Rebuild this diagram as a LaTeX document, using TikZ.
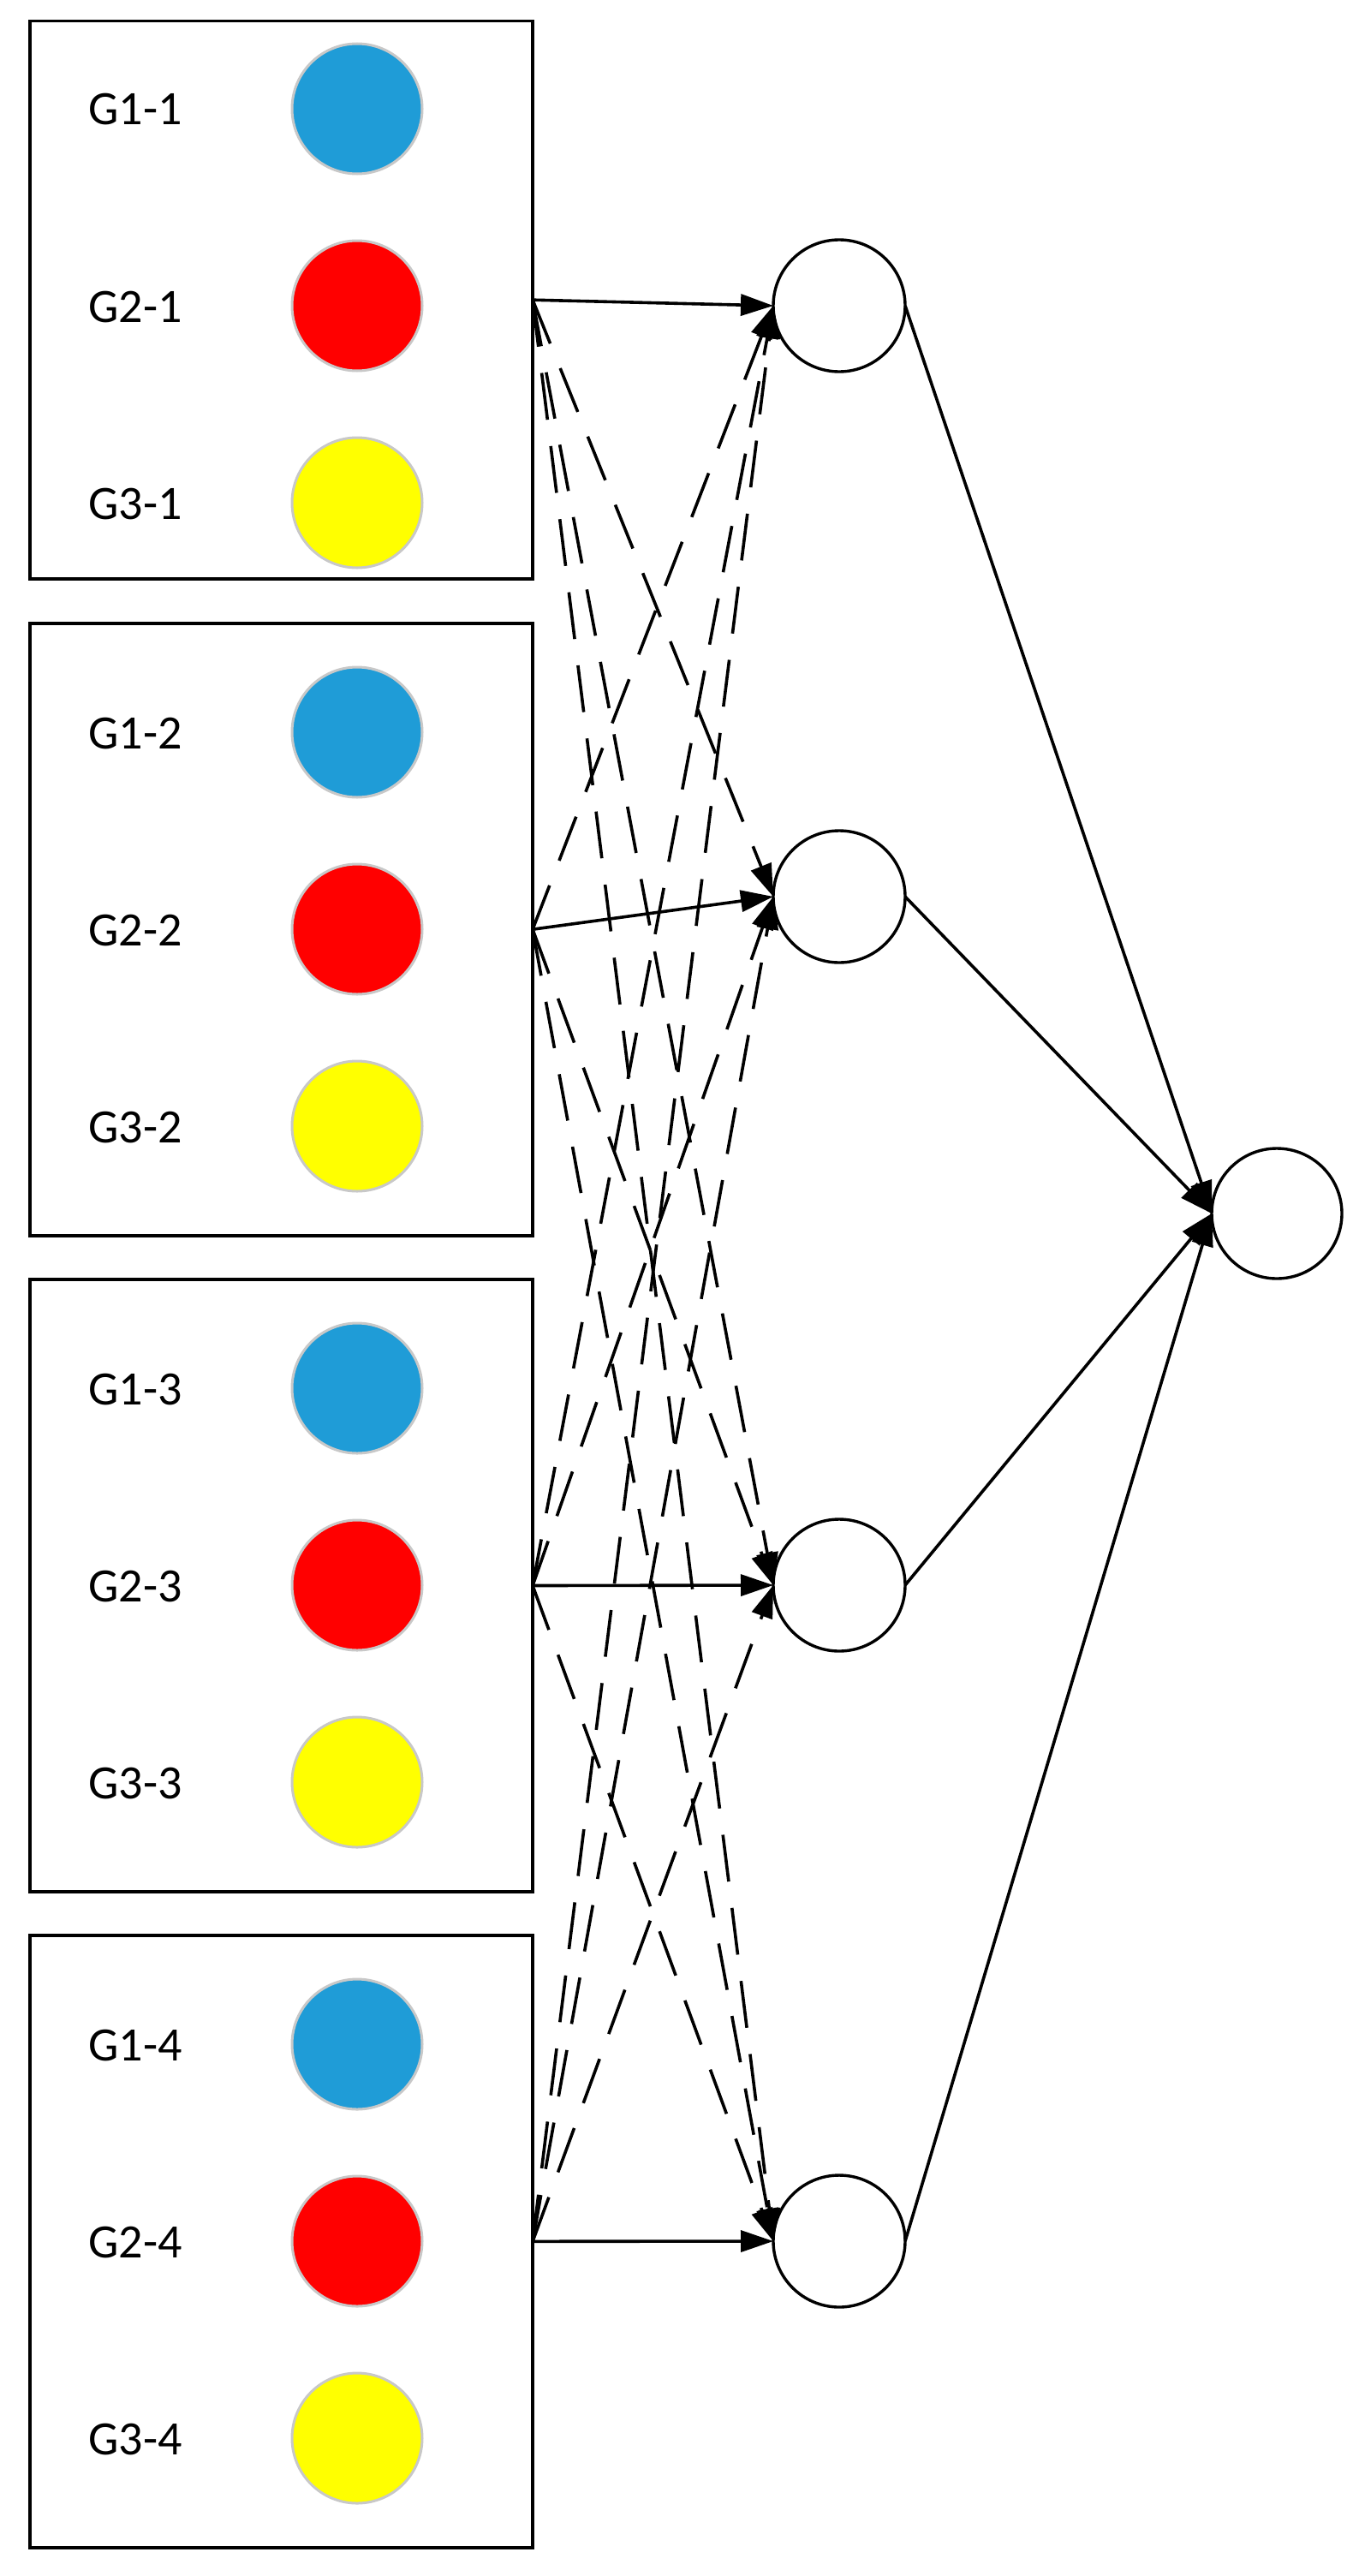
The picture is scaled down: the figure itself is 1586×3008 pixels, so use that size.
\documentclass[tikz,border=0pt]{standalone}
\usepackage{fontspec}
\setmainfont{Carlito}
\usetikzlibrary{arrows.meta}
\definecolor{gblue}{RGB}{31,156,215}
\definecolor{gred}{RGB}{255,0,0}
\definecolor{gyellow}{RGB}{255,255,0}
\definecolor{ggray}{RGB}{200,200,200}
\begin{document}
\begin{tikzpicture}[x=0.5pt,y=-0.5pt,
  grpbox/.style={draw=black,line width=1.8pt,minimum width=293.65pt,inner sep=0pt,outer sep=0pt},
  dot/.style={circle,draw=ggray,line width=1.5pt,minimum size=76pt,inner sep=0pt},
  lbl/.style={anchor=base west,font=\fontsize{28}{34}\selectfont,inner sep=0pt},
  hid/.style={circle,draw=black,line width=1.7pt,minimum size=77pt,inner sep=0pt,outer sep=0pt,fill=white},
  solidarr/.style={line width=1.8pt,-{Triangle[length=19pt,width=12.5pt]}},
  dasharr/.style={solidarr,dash pattern=on 27.5pt off 15.5pt}
]
\useasboundingbox (0,0) rectangle (1586,3008);
\fill[white] (0,0) rectangle (1586,3008);
% group boxes
\node[grpbox,minimum height=325.5pt] (B1) at (328.35,350.2) {};
\node[grpbox,minimum height=357.5pt] (B2) at (328.35,1085.2) {};
\node[grpbox,minimum height=357.5pt] (B3) at (328.35,1851.5) {};
\node[grpbox,minimum height=357.5pt] (B4) at (328.35,2617.3) {};
% coloured circles and labels
\foreach \k/\a/\b/\c in {1/127/357/587, 2/855/1085/1315, 3/1621/1851/2081, 4/2387/2617/2847}{
  \node[dot,fill=gblue] (ca\k) at (417,\a) {};
  \node[dot,fill=gred] (cb\k) at (417,\b) {};
  \node[dot,fill=gyellow] (cc\k) at (417,\c) {};
  \node[lbl] (la\k) at (103,\a+19) {G1-\k};
  \node[lbl] (lb\k) at (103,\b+19) {G2-\k};
  \node[lbl] (lc\k) at (103,\c+19) {G3-\k};
}
% hidden-layer nodes
\node[hid] (H1) at (980,357) {};
\node[hid] (H2) at (980,1047) {};
\node[hid] (H3) at (980,1851) {};
\node[hid] (H4) at (980,2617) {};
% output node
\node[hid,minimum size=76pt] (O) at (1491,1417) {};
% connectors box -> hidden
\foreach \i in {1,2,3,4}{
  \foreach \j in {1,2,3,4}{
    \ifnum\i=\j
      \draw[solidarr] (B\i.east) -- (H\j.west);
    \else
      \draw[dasharr] (B\i.east) -- (H\j.west);
    \fi
  }
}
% hidden -> output
\foreach \i in {1,2,3,4}{
  \draw[solidarr] (H\i.east) -- (O.west);
}
\end{tikzpicture}
\end{document}
